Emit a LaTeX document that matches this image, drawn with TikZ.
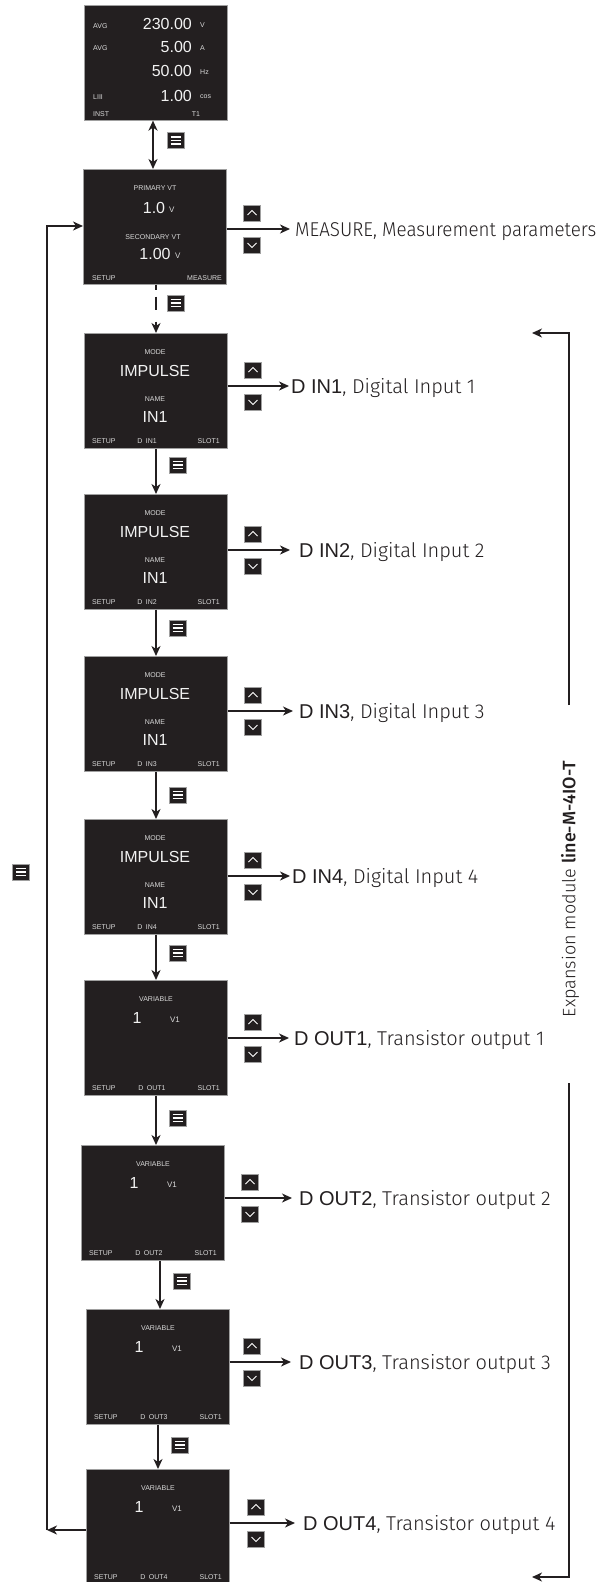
\documentclass[tikz,border=0pt]{standalone}
\usepackage{fontspec}
\setmainfont{Liberation Sans}
\IfFontExistsTF{Fira Sans Light}{\newfontfamily\lightf{Fira Sans Light}\newfontfamily\lightn[FakeStretch=0.94]{Fira Sans Light}}{\newfontfamily\lightf{Fira Sans}\newfontfamily\lightn[FakeStretch=0.94]{Fira Sans}}
\IfFontExistsTF{Fira Sans Medium}{\newfontfamily\medf{Fira Sans Medium}}{\newfontfamily\medf{Fira Sans}}
\usetikzlibrary{arrows.meta}
\definecolor{ink}{HTML}{231F20}
\definecolor{scr}{HTML}{231F20}
\definecolor{rim}{HTML}{A0A0A0}
\definecolor{txtA}{HTML}{F2F2F2}
\definecolor{txtB}{HTML}{D9D9D9}
\tikzset{
 screen/.style={fill=scr, draw=rim, line width=0.6pt, minimum width=143pt, minimum height=115pt, inner sep=0pt, anchor=north west},
 big/.style={text=txtA, font=\fontsize{16}{16}\selectfont, inner sep=0pt},
 tiny/.style={text=txtB, font=\fontsize{7}{7}\selectfont, inner sep=0pt},
 unit/.style={text=txtB, font=\fontsize{8}{8}\selectfont, inner sep=0pt},
 conn/.style={draw=ink, line width=2pt},
 arr/.style={conn, -{Stealth[length=10pt,width=9pt,inset=3pt]}},
 darr/.style={conn, {Stealth[length=10pt,width=9pt,inset=3pt]}-{Stealth[length=10pt,width=9pt,inset=3pt]}},
 key/.style={fill=scr, draw=rim, line width=0.5pt, minimum width=17pt, minimum height=16pt, inner sep=0pt},
 upkey/.style={key, path picture={\draw[white, line width=0.8pt] ([xshift=-4.5pt,yshift=-2pt]path picture bounding box.center) -- ([yshift=2.5pt]path picture bounding box.center) -- ([xshift=4.5pt,yshift=-2pt]path picture bounding box.center);}},
 downkey/.style={key, path picture={\draw[white, line width=0.8pt] ([xshift=-4.5pt,yshift=2pt]path picture bounding box.center) -- ([yshift=-2.5pt]path picture bounding box.center) -- ([xshift=4.5pt,yshift=2pt]path picture bounding box.center);}},
 menukey/.style={key, path picture={\foreach \d in {-3.5,0,3.5} \draw[white, line width=1.2pt] ([xshift=-5pt,yshift=\d pt]path picture bounding box.center) -- ([xshift=5pt,yshift=\d pt]path picture bounding box.center);}},
 lab/.style={inner sep=0pt, anchor=base west, text=ink, font=\fontsize{20}{20}\selectfont},
}
\newcommand{\dinscreen}[4]{%
 \node[screen] (#1) at (#2,#3) {};
 \begin{scope}[shift={(#2,#3)}]
  \node[tiny] (#1-a) at (71,19) {MODE};
  \node[big] (#1-b) at (71,38) {IMPULSE};
  \node[tiny] (#1-c) at (71,66) {NAME};
  \node[big] (#1-d) at (71,84) {IN1};
  \node[tiny, anchor=west] (#1-e) at (8,108) {SETUP};
  \node[tiny] (#1-f) at (63,108) {#4};
  \node[tiny, anchor=east] (#1-g) at (136,108) {SLOT1};
 \end{scope}}
\newcommand{\outscreen}[4]{%
 \node[screen] (#1) at (#2,#3) {};
 \begin{scope}[shift={(#2,#3)}]
  \node[tiny] (#1-a) at (72,19) {VARIABLE};
  \node[big] (#1-b) at (53,38) {1};
  \node[unit] (#1-c) at (91,40) {V1};
  \node[tiny, anchor=west] (#1-e) at (8,108) {SETUP};
  \node[tiny] (#1-f) at (68,108) {#4};
  \node[tiny, anchor=east] (#1-g) at (136,108) {SLOT1};
 \end{scope}}
\newcommand{\updown}[3]{%
 \node[upkey] (#1-up) at (#2,#3-16) {};
 \node[downkey] (#1-dn) at (#2,#3+16) {};}
\begin{document}
\begin{tikzpicture}[x=1pt,y=-1pt]
\useasboundingbox (0,0) rectangle (610,1582);
% ---------- screen 1: INST ----------
\node[screen] (b1) at (84,5) {};
\node[tiny, anchor=west] (b1a) at (93,26) {AVG};
\node[big, anchor=east] (b1b) at (192,24) {230.00};
\node[tiny, anchor=west] (b1c) at (200,25) {V};
\node[tiny, anchor=west] (b1d) at (93,48) {AVG};
\node[big, anchor=east] (b1e) at (192,47) {5.00};
\node[tiny, anchor=west] (b1f) at (200,48) {A};
\node[big, anchor=east] (b1g) at (192,71) {50.00};
\node[tiny, anchor=west] (b1h) at (200,72) {Hz};
\node[tiny, anchor=west] (b1i) at (93,97) {LIII};
\node[big, anchor=east] (b1j) at (192,96) {1.00};
\node[tiny, anchor=west] (b1k) at (200,97) {cos};
\node[tiny, anchor=west] (b1l) at (93,114) {INST};
\node[tiny] (b1m) at (196,114) {T1};
% ---------- screen 2: SETUP MEASURE ----------
\node[screen] (b2) at (83,169) {};
\node[tiny] (b2a) at (155,188) {PRIMARY VT};
\node[big] (b2b) at (154,208) {1.0};
\node[unit, anchor=west] (b2c) at (169,210) {V};
\node[tiny] (b2d) at (153,237) {SECONDARY VT};
\node[big] (b2e) at (155,254) {1.00};
\node[unit, anchor=west] (b2f) at (175,256) {V};
\node[tiny, anchor=west] (b2g) at (92,278) {SETUP};
\node[tiny, anchor=east] (b2h) at (222,278) {MEASURE};
% ---------- other screens ----------
\dinscreen{b3}{84}{333}{D\enspace IN1}
\dinscreen{b4}{84}{494}{D\enspace IN2}
\dinscreen{b5}{84}{656}{D\enspace IN3}
\dinscreen{b6}{84}{819}{D\enspace IN4}
\outscreen{b7}{84}{980}{D\enspace OUT1}
\outscreen{b8}{81}{1145}{D\enspace OUT2}
\outscreen{b9}{86}{1309}{D\enspace OUT3}
\outscreen{b10}{86}{1469}{D\enspace OUT4}
% ---------- vertical connectors ----------
\coordinate (xa) at (153,0);
\coordinate (xb) at (156,0);
\coordinate (xc) at (160,0);
\coordinate (xd) at (158,0);
\draw[darr] (b1.south -| xa) -- (b2.north -| xa);
\draw[arr, dash pattern=on 5pt off 7pt on 13pt off 12pt] (b2.south -| xb) -- (b3.north -| xb);
\draw[arr] (b3.south -| xb) -- (b4.north -| xb);
\draw[arr] (b4.south -| xb) -- (b5.north -| xb);
\draw[arr] (b5.south -| xb) -- (b6.north -| xb);
\draw[arr] (b6.south -| xb) -- (b7.north -| xb);
\draw[arr] (b7.south -| xb) -- (b8.north -| xb);
\draw[arr] (b8.south -| xc) -- (b9.north -| xc);
\draw[arr] (b9.south -| xd) -- (b10.north -| xd);
\node[menukey] (m1) at (175.5,140.5) {};
\node[menukey] (m2) at (175.5,303) {};
\node[menukey] (m3) at (177.5,465) {};
\node[menukey] (m4) at (177.5,628) {};
\node[menukey] (m5) at (177.5,795) {};
\node[menukey] (m6) at (177.5,953) {};
\node[menukey] (m7) at (177.5,1118) {};
\node[menukey] (m8) at (181.5,1281) {};
\node[menukey] (m9) at (179.5,1445) {};
% ---------- right arrows, keys and labels ----------
\coordinate (t2) at (290,229);
\coordinate (t3) at (289,386);
\coordinate (t4) at (290,550);
\coordinate (t5) at (293,711);
\coordinate (t6) at (290,876);
\coordinate (t7) at (289,1038);
\coordinate (t8) at (292,1198);
\coordinate (t9) at (291,1362);
\coordinate (t10) at (295,1523);
\draw[arr] (b2.east |- t2) -- (t2);
\draw[arr] (b3.east |- t3) -- (t3);
\draw[arr] (b4.east |- t4) -- (t4);
\draw[arr] (b5.east |- t5) -- (t5);
\draw[arr] (b6.east |- t6) -- (t6);
\draw[arr] (b7.east |- t7) -- (t7);
\draw[arr] (b8.east |- t8) -- (t8);
\draw[arr] (b9.east |- t9) -- (t9);
\draw[arr] (b10.east |- t10) -- (t10);
\updown{k2}{252}{229}
\updown{k3}{253}{386}
\updown{k4}{253}{550}
\updown{k5}{253}{711}
\updown{k6}{253}{876}
\updown{k7}{253}{1038}
\updown{k8}{250}{1198}
\updown{k9}{252}{1362}
\updown{k10}{256}{1523}
\node[lab] (l2) at (295,236) {\lightn MEASURE, Measurement parameters};
\node[lab] (l3) at (291,393) {D IN1\lightf, Digital Input 1};
\node[lab] (l4) at (299,557) {D IN2\lightf, Digital Input 2};
\node[lab] (l5) at (299,718) {D IN3\lightf, Digital Input 3};
\node[lab] (l6) at (292,883) {D IN4\lightf, Digital Input 4};
\node[lab] (l7) at (294,1045) {D OUT1\lightf, Transistor output 1};
\node[lab] (l8) at (299,1205) {D OUT2\lightf, Transistor output 2};
\node[lab] (l9) at (299,1369) {D OUT3\lightf, Transistor output 3};
\node[lab] (l10) at (303,1530) {D OUT4\lightf, Transistor output 4};
% ---------- left return loop ----------
\coordinate (lt) at (47,226);
\coordinate (lb) at (47,1530);
\draw[arr] (lb) -- (lt) -- (b2.west |- lt);
\draw[arr] (b10.west |- lb) -- (lb);
\node[menukey] (m0) at (21,872) {};
% ---------- right bracket ----------
\coordinate (rt) at (569,333);
\coordinate (rtt) at (532,333);
\coordinate (rm1) at (569,705);
\coordinate (rm2) at (569,1083);
\coordinate (rb) at (569,1577);
\coordinate (rbt) at (532,1577);
\draw[arr] (rm1) -- (rt) -- (rtt);
\draw[arr] (rm2) -- (rb) -- (rbt);
\node[rotate=90, inner sep=0pt, text=ink, font=\fontsize{18}{18}\selectfont] (exp) at (570,889) {\lightf Expansion module \medf line-M-4IO-T};
\end{tikzpicture}
\end{document}
